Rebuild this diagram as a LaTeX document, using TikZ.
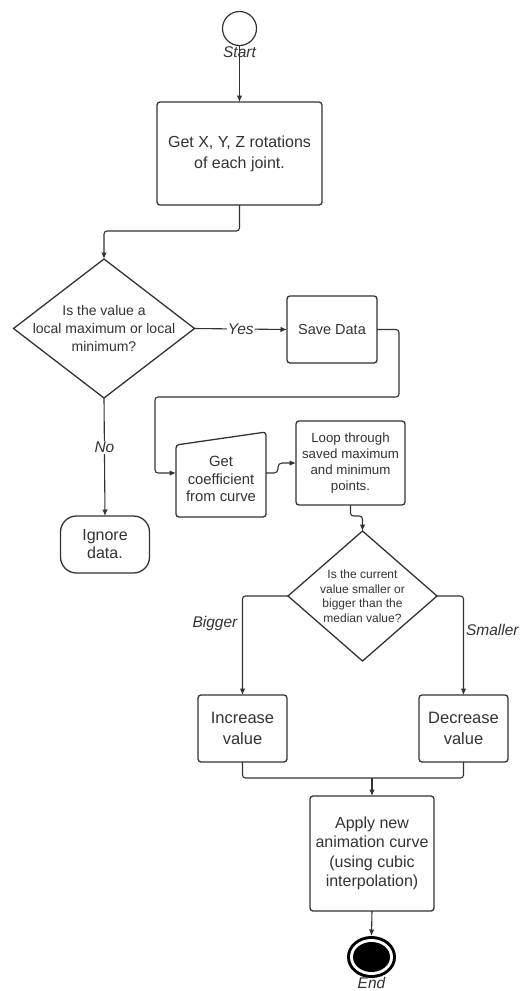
\documentclass[tikz,border=0pt]{standalone}
\usepackage{fontspec}
\setmainfont{Liberation Sans}
\usetikzlibrary{shapes.geometric,arrows.meta,calc}
\definecolor{ink}{HTML}{333333}
\begin{document}
\begin{tikzpicture}[x=1pt,y=-1pt,
  every node/.style={inner sep=0pt,outer sep=0pt,text=ink},
  procbox/.style={draw=ink,line width=1.3pt,rounded corners=3pt,fill=white,align=center},
  decbox/.style={draw=ink,line width=1.3pt,shape=diamond,fill=white},
  conn/.style={draw=ink,line width=1.1pt,rounded corners=3pt},
  arr/.style={conn,-{Latex[length=6.5pt,width=5.5pt]}},
  lbl/.style={font=\fontsize{15.5}{18}\selectfont\itshape},
  lblbg/.style={lbl,fill=white,inner sep=1pt}]
\useasboundingbox (0,0) rectangle (521,991);

% start
\node[circle,draw=ink,line width=1.2pt,minimum size=34pt] (st) at (239.5,28.5) {};
% box 1
\node[procbox,minimum width=165pt,minimum height=103pt,font=\fontsize{16}{21}\selectfont] (b1) at (239.5,153.5) {Get X, Y, Z rotations\\of each joint.};
% diamond 1
\node[decbox,minimum width=181pt,minimum height=139pt] (d1) at (104,328.5) {};
\node[align=center,font=\fontsize{14}{18}\selectfont] (d1t) at (d1.center) {Is the value a\\local maximum or local\\minimum?};
% save data
\node[procbox,minimum width=90pt,minimum height=67pt,font=\fontsize{14.5}{17}\selectfont] (sd) at (332,329.5) {Save Data};
% ignore
\node[draw=ink,line width=1.3pt,rounded corners=16pt,fill=white,align=center,minimum width=89pt,minimum height=57pt,font=\fontsize{16}{18}\selectfont] (ig) at (105,544.5) {Ignore\\data.};
% get coefficient (manual input)
\coordinate (gcA) at (176,445);
\coordinate (gcB) at (266,432);
\coordinate (gcC) at (266,517);
\coordinate (gcD) at (176,517);
\coordinate (gcW) at (176,473);
\coordinate (gcE) at (266,473);
\draw[draw=ink,line width=1.3pt,rounded corners=3pt,fill=white] (gcA) -- (gcB) -- (gcC) -- (gcD) -- cycle;
\node[align=center,font=\fontsize{14.8}{17.5}\selectfont] (gc) at (221,479) {Get\\coefficient\\from curve};
% loop
\node[procbox,minimum width=109pt,minimum height=84pt,font=\fontsize{13.3}{16}\selectfont] (lp) at (350.5,463) {Loop through\\saved maximum\\and minimum\\points.};
% diamond 2
\node[decbox,minimum width=149pt,minimum height=130pt] (d2) at (362.5,596) {};
\node[align=center,font=\fontsize{12}{14.5}\selectfont] (d2t) at (d2.center) {Is the current\\value smaller or\\bigger than the\\median value?};
% increase / decrease
\node[procbox,minimum width=89pt,minimum height=67pt,font=\fontsize{16.5}{20.5}\selectfont] (inc) at (242.5,728.5) {Increase\\value};
\node[procbox,minimum width=89pt,minimum height=67pt,font=\fontsize{16.5}{20.5}\selectfont] (dec) at (463.5,728.5) {Decrease\\value};
% apply
\node[procbox,minimum width=124pt,minimum height=115pt,font=\fontsize{16}{19.3}\selectfont] (ap) at (372,853.5) {Apply new\\animation curve\\(using cubic\\interpolation)};
% end
\fill[black] (371.5,957) ellipse [x radius=24.5pt,y radius=21pt];
\fill[white] (371.5,957) ellipse [x radius=21.5pt,y radius=18pt];
\node[ellipse,fill=black,minimum width=37pt,minimum height=30pt] (en) at (371.5,957) {};
\coordinate (enN) at (371.5,936);

% connectors
\draw[arr] (st.south) -- (b1.north);
\node[lbl] (stl) at (239.5,52) {Start};
\draw[arr] (b1.south) -- ++(0,26) -| (d1.north);
\draw[arr] (d1.east) -- node[lblbg] (yes) {Yes} (sd.west);
\draw[arr] (d1.south) -- node[lblbg,pos=0.42] (no) {No} (ig.north);
\draw[arr] (sd.east) -| (399,397) -| (155,473) -- (gcW);
\draw[arr,rounded corners=4pt] (gcE) -| ++(12,-10) -- (lp.west);
\draw[arr] (lp.south) -- ++(0,11) -| (d2.north);
\draw[arr] (d2.west) -| (inc.north);
\draw[arr] (d2.east) -| (dec.north);
\node[lbl] (big) at (215,623) {Bigger};
\node[lbl,anchor=west] (sml) at (466,630) {Smaller};
\draw[conn] (inc.south) -- ++(0,16) -| (dec.south);
\coordinate (jn) at (372,778);
\draw[arr] (jn) -- (ap.north);
\draw[arr] (ap.south) -- (enN);
\node[lbl] (enl) at (371.5,983) {End};
\end{tikzpicture}
\end{document}
